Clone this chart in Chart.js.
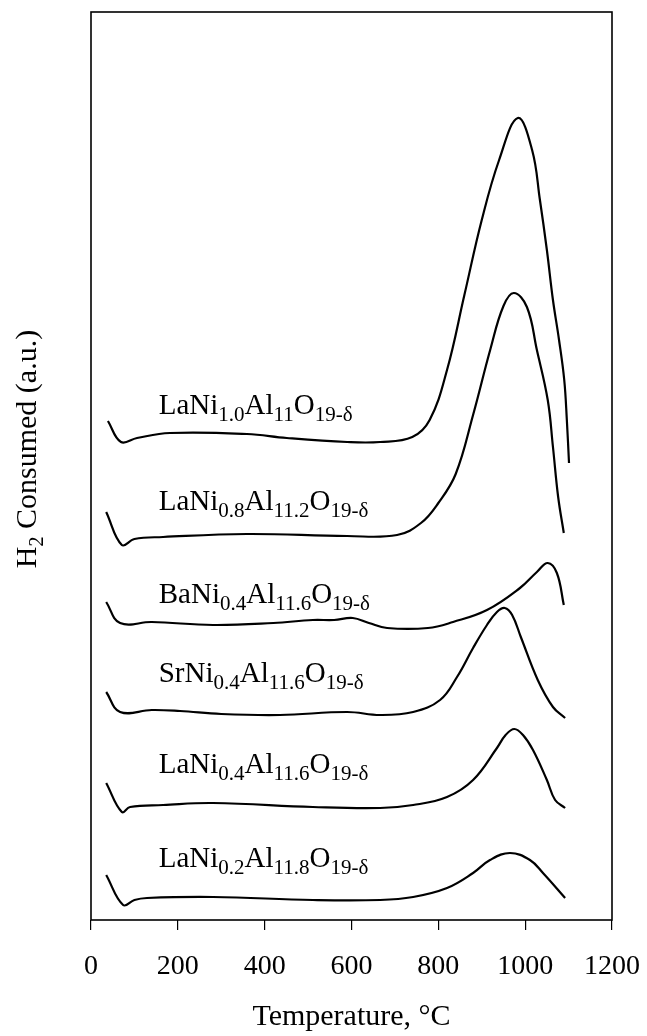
<!DOCTYPE html>
<html>
<head>
<meta charset="utf-8">
<script src="https://cdn.jsdelivr.net/npm/chart.js@4/dist/chart.umd.min.js"></script>
<style>
  body { margin: 0; background: #fff; }
  canvas { display: block; }
</style>
</head>
<body>
<canvas id="tpr" width="647" height="1036"></canvas>
<script>
// TPR profiles, temperature (°C) vs. stacked H2 signal (arbitrary units)
const tempLa10 = [39, 69, 106, 182, 359, 451, 590, 666, 740, 780, 820, 860, 900, 940, 983, 1016, 1034, 1050, 1064, 1078, 1090, 1096, 1101];
const sigLa10  = [499, 478, 482, 487, 486, 482, 478, 478, 483, 500, 550, 625, 700, 760, 802, 770, 720, 670, 620, 580, 540, 500, 457];

const tempLa08 = [35, 71, 100, 166, 359, 590, 705, 760, 800, 840, 880, 920, 950, 974, 1004, 1027, 1052, 1064, 1076, 1089];
const sigLa08  = [408, 375, 381, 383, 386, 384, 385, 397, 417, 446, 505, 571, 614, 627, 613, 570, 520, 473, 423, 387];

const tempBa = [35, 67, 140, 281, 420, 511, 560, 603, 640, 682, 776, 834, 912, 988, 1027, 1052, 1073, 1089];
const sigBa  = [318, 297, 298, 295, 297, 300, 300, 302, 297, 292, 292, 298, 310, 332, 348, 357, 347, 315];

const tempSr = [35, 67, 140, 205, 300, 435, 590, 666, 742, 804, 843, 880, 912, 935, 953, 970, 990, 1029, 1064, 1092];
const sigSr  = [228, 208, 210, 209, 206, 205, 208, 205, 208, 220, 243, 272, 295, 308, 312, 305, 283, 240, 213, 202];

const tempLa04 = [35, 71, 90, 166, 281, 511, 666, 742, 820, 880, 935, 955, 975, 995, 1018, 1050, 1069, 1092];
const sigLa04  = [137, 108, 113, 115, 117, 113, 112, 115, 123, 140, 172, 185, 191, 185, 170, 140, 120, 112];

const tempLa02 = [35, 74, 100, 129, 281, 511, 666, 742, 820, 880, 919, 965, 1011, 1041, 1092];
const sigLa02  = [45, 15, 20, 22, 23, 20, 20, 23, 32, 47, 60, 67, 60, 47, 22];

const xTicks = [0, 200, 400, 600, 800, 1000, 1200];

// sample names, [text, isSubscript]
const sampleNames = [
  [["LaNi", 0], ["1.0", 1], ["Al", 0], ["11", 1], ["O", 0], ["19-δ", 1]],
  [["LaNi", 0], ["0.8", 1], ["Al", 0], ["11.2", 1], ["O", 0], ["19-δ", 1]],
  [["BaNi", 0], ["0.4", 1], ["Al", 0], ["11.6", 1], ["O", 0], ["19-δ", 1]],
  [["SrNi", 0], ["0.4", 1], ["Al", 0], ["11.6", 1], ["O", 0], ["19-δ", 1]],
  [["LaNi", 0], ["0.4", 1], ["Al", 0], ["11.6", 1], ["O", 0], ["19-δ", 1]],
  [["LaNi", 0], ["0.2", 1], ["Al", 0], ["11.8", 1], ["O", 0], ["19-δ", 1]]
];

const series = [
  [tempLa10, sigLa10],
  [tempLa08, sigLa08],
  [tempBa, sigBa],
  [tempSr, sigSr],
  [tempLa04, sigLa04],
  [tempLa02, sigLa02]
];

// where each name sits (temperature, signal at text baseline)
const nameAtT = 156;
const nameAtY = [506, 410, 317, 238, 147, 53];

const serif = "'Liberation Serif', 'Times New Roman', serif";

function richText(ctx, parts, x, y, size, subSize, subDrop) {
  let cx = x;
  parts.forEach(([txt, sub]) => {
    ctx.font = (sub ? subSize : size) + "px " + serif;
    ctx.fillText(txt, cx, sub ? y + subDrop : y);
    cx += ctx.measureText(txt).width;
  });
  return cx - x;
}

function richWidth(ctx, parts, size, subSize) {
  let w = 0;
  parts.forEach(([txt, sub]) => {
    ctx.font = (sub ? subSize : size) + "px " + serif;
    w += ctx.measureText(txt).width;
  });
  return w;
}

const decor = {
  id: "decor",
  beforeDraw(chart) {
    const ctx = chart.ctx;
    ctx.save();
    ctx.fillStyle = "#fff";
    ctx.fillRect(0, 0, chart.width, chart.height);
    ctx.restore();
  },
  afterDraw(chart) {
    const ctx = chart.ctx;
    const a = chart.chartArea;
    const xs = chart.scales.x, ys = chart.scales.y;
    ctx.save();
    // plot frame
    ctx.strokeStyle = "#000";
    ctx.lineWidth = 1.6;
    ctx.strokeRect(a.left, a.top, a.right - a.left, a.bottom - a.top);

    ctx.fillStyle = "#000";
    ctx.textBaseline = "alphabetic";
    ctx.textAlign = "left";
    sampleNames.forEach((parts, i) => {
      richText(ctx, parts, xs.getPixelForValue(nameAtT), ys.getPixelForValue(nameAtY[i]), 29, 21, 7);
    });

    // x title
    ctx.font = "30px " + serif;
    ctx.textAlign = "center";
    ctx.fillText("Temperature, °C", (a.left + a.right) / 2, 1025);

    // y title, rotated
    ctx.translate(36, 449);
    ctx.rotate(-Math.PI / 2);
    ctx.textAlign = "left";
    const yParts = [["H", 0], ["2", 1], [" Consumed (a.u.)", 0]];
    const w = richWidth(ctx, yParts, 30, 20);
    richText(ctx, yParts, -w / 2, 0, 30, 20, 7);
    ctx.restore();
  }
};

const datasets = series.map(([t, s]) => ({
  data: t.map((v, i) => ({ x: v, y: s[i] })),
  borderColor: "#000",
  borderWidth: 2.2,
  pointRadius: 0,
  fill: false,
  tension: 0.4
}));

new Chart(document.getElementById("tpr"), {
  type: "line",
  data: { datasets: datasets },
  options: {
    responsive: false,
    animation: false,
    layout: { padding: { left: 91, right: 35, top: 12, bottom: 0 } },
    plugins: { legend: { display: false }, tooltip: { enabled: false } },
    scales: {
      x: {
        type: "linear",
        min: 0,
        max: 1200,
        afterBuildTicks(scale) { scale.ticks = xTicks.map(v => ({ value: v })); },
        afterFit(scale) {
          scale.height = 116;
          scale.paddingLeft = 0;
          scale.paddingRight = 0;
        },
        ticks: {
          color: "#000",
          font: { family: serif, size: 28 },
          padding: 20,
          maxRotation: 0,
          callback: v => String(v)
        },
        grid: { drawOnChartArea: false, drawTicks: true, tickLength: 10, color: "#000", lineWidth: 1.2 },
        border: { display: false }
      },
      y: { min: 0, max: 908, display: false }
    }
  },
  plugins: [decor]
});
</script>
</body>
</html>
